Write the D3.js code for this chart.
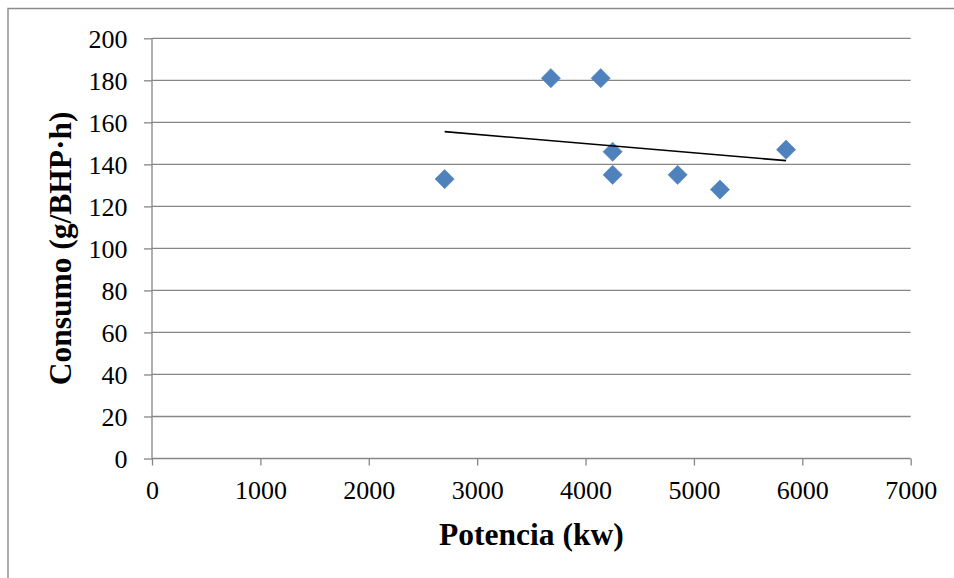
<!DOCTYPE html>
<html>
<head>
<meta charset="utf-8">
<script src="https://cdn.jsdelivr.net/npm/d3@7"></script>
<style>
  html, body { margin: 0; padding: 0; background: #fff; }
  svg { display: block; }
  svg text { font-family: "Liberation Serif", "DejaVu Serif", serif !important; fill: #000; }
</style>
</head>
<body>
<svg id="chart" width="954" height="578"></svg>
<script>
// Data
const potencia = [2700, 3680, 4140, 4250, 4250, 4850, 5240, 5850];
const consumo  = [133, 181, 181, 146, 135, 135, 128, 147];
const xTicks = [0, 1000, 2000, 3000, 4000, 5000, 6000, 7000];
const yTicks = [0, 20, 40, 60, 80, 100, 120, 140, 160, 180, 200];
const xTitle = "Potencia (kw)";
const yTitle = "Consumo (g/BHP·h)";

const svg = d3.select("#chart");
const W = 954, H = 578;
const plot = { left: 152, right: 910.7, top: 38.3, bottom: 458.5 };

const x = d3.scaleLinear().domain([0, 7000]).range([plot.left, plot.right]);
const y = d3.scaleLinear().domain([0, 200]).range([plot.bottom, plot.top]);

const gridColor = "#868686";
const serif = '"Liberation Serif", serif';

// outer frame (only top and left visible in reference)
svg.append("path")
  .attr("d", `M8,${H + 2} L8,8.5 L${W + 2},8.5`)
  .attr("fill", "none").attr("stroke", "#8a8a8a").attr("stroke-width", 1.4);

// horizontal gridlines
svg.append("g").selectAll("line")
  .data(yTicks.filter(d => d !== 0))
  .join("line")
  .attr("x1", plot.left).attr("x2", plot.right)
  .attr("y1", d => y(d)).attr("y2", d => y(d))
  .attr("stroke", gridColor).attr("stroke-width", 1.3);

// y axis
const yAxis = d3.axisLeft(y).tickValues(yTicks).tickSize(8).tickFormat(d3.format("d"));
const gy = svg.append("g").attr("transform", `translate(${plot.left},0)`).call(yAxis);
gy.attr("font-family", serif).attr("font-size", 26);
gy.select(".domain").attr("d", `M0,${y(200)}V${y(0)}`)
  .attr("stroke", gridColor).attr("stroke-width", 1.3);
gy.selectAll(".tick line").attr("stroke", gridColor).attr("stroke-width", 1.3);
gy.selectAll(".tick text")
  .style("font-family", serif).style("font-size", "26px")
  .attr("dy", "0.35em").attr("x", -24.5);

// x axis
const xAxis = d3.axisBottom(x).tickValues(xTicks).tickSize(7).tickFormat(d3.format("d"));
const gx = svg.append("g").attr("transform", `translate(0,${plot.bottom})`).call(xAxis);
gx.attr("font-family", serif).attr("font-size", 26);
gx.select(".domain").attr("d", `M${x(0)},0H${x(7000)}`)
  .attr("stroke", gridColor).attr("stroke-width", 1.3);
gx.selectAll(".tick line").attr("stroke", gridColor).attr("stroke-width", 1.3);
gx.selectAll(".tick text")
  .style("font-family", serif).style("font-size", "26px")
  .attr("dy", "0.71em").attr("y", 22);

// markers (diamonds)
svg.append("g").selectAll("path")
  .data(potencia.map((p, i) => ({ p, c: consumo[i] })))
  .join("path")
  .attr("transform", d => `translate(${x(d.p)},${y(d.c)}) rotate(45)`)
  .attr("d", d3.symbol().type(d3.symbolSquare).size(185))
  .attr("fill", "#4F81BD")
  .attr("stroke", "#5a8ac6").attr("stroke-width", 0.6);

// linear trendline (least squares of the series)
const mx = d3.mean(potencia), my = d3.mean(consumo);
const slope = d3.sum(potencia, (p, i) => (p - mx) * (consumo[i] - my)) /
              d3.sum(potencia, p => (p - mx) * (p - mx));
const intercept = my - slope * mx;
const xr = d3.extent(potencia);
svg.append("line")
  .attr("x1", x(xr[0])).attr("y1", y(intercept + slope * xr[0]))
  .attr("x2", x(xr[1])).attr("y2", y(intercept + slope * xr[1]))
  .attr("stroke", "#000").attr("stroke-width", 1.6);

// axis titles
svg.append("text")
  .attr("x", (plot.left + plot.right) / 2).attr("y", 545)
  .attr("text-anchor", "middle")
  .style("font-family", serif).style("font-size", "31.5px").style("font-weight", "bold")
  .text(xTitle);

svg.append("text")
  .attr("transform", `translate(71,${(plot.top + plot.bottom) / 2}) rotate(-90)`)
  .attr("text-anchor", "middle")
  .style("font-family", serif).style("font-size", "31.5px").style("font-weight", "bold")
  .text(yTitle);
</script>
</body>
</html>
